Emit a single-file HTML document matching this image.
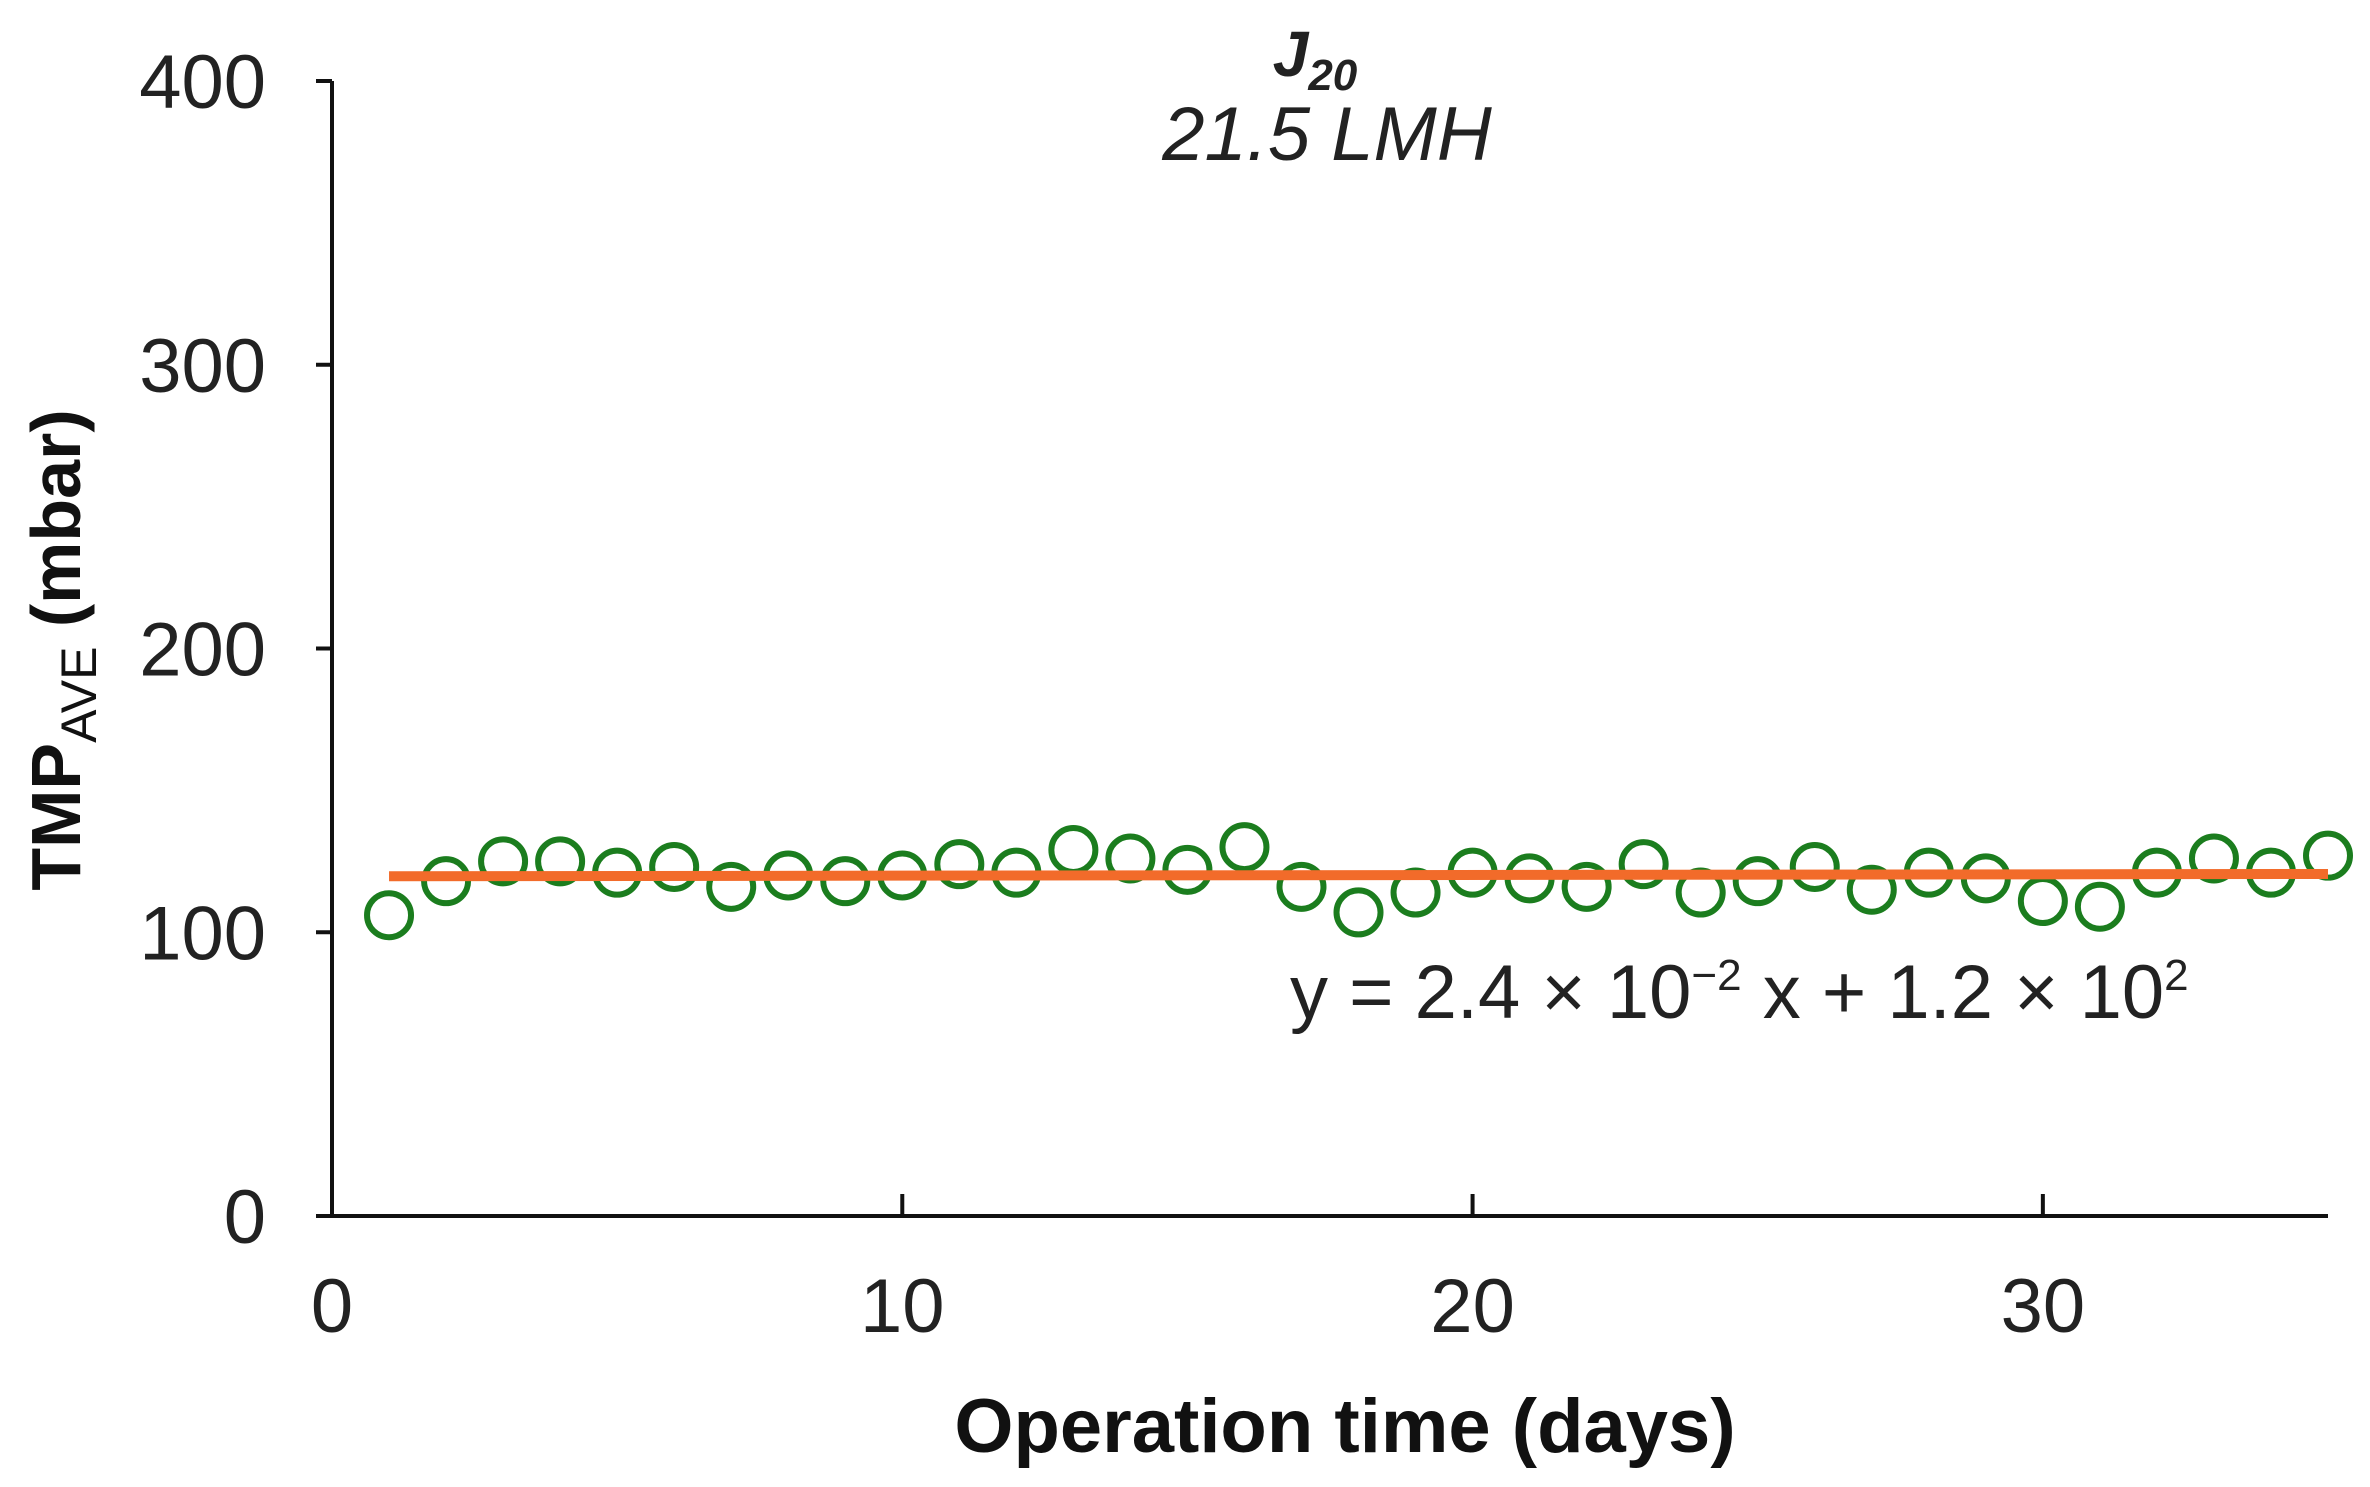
<!DOCTYPE html>
<html><head><meta charset="utf-8"><style>
html,body{margin:0;padding:0;background:#fff;}
svg{display:block;font-family:"Liberation Sans",Arial,sans-serif;}
</style></head><body>
<svg id="chart" width="2370" height="1487" viewBox="0 0 2370 1487" xmlns="http://www.w3.org/2000/svg">
<g id="axes"></g><g id="marks"></g>
<text x="1315" y="76" text-anchor="middle" font-size="64" font-weight="bold" font-style="italic" fill="#222">J<tspan font-size="44" dy="14">20</tspan></text>
<text x="1327" y="160" text-anchor="middle" font-size="76" font-style="italic" fill="#222">21.5 LMH</text>
<text x="1290" y="1018" font-size="76" fill="#222">y = 2.4 × 10<tspan font-size="44" dy="-28">−2</tspan><tspan dy="28"> x + 1.2 × 10</tspan><tspan font-size="44" dy="-28">2</tspan></text>
<text x="1345" y="1452" text-anchor="middle" font-size="76" font-weight="bold" fill="#111">Operation time (days)</text>
<text transform="translate(80,650) rotate(-90)" text-anchor="middle" font-size="70" font-weight="bold" fill="#111">TMP<tspan font-size="50" dy="16" font-weight="normal">AVE</tspan><tspan dy="-16"> (mbar)</tspan></text>
</svg>
<script>
const days = [1,2,3,4,5,6,7,8,9,10,11,12,13,14,15,16,17,18,19,20,21,22,23,24,25,26,27,28,29,30,31,32,33,34,35];
const tmpValues = [106,118,125,125,121,123,116,120,118,120,124,121,129,126,122,130,116,107,114,121,119,116,124,114,118,123,115,121,119,111,109,121,126,121,127];
const fitSlope = 0.024;
const fitIntercept = 119.7;
const xTicks = [0,10,20,30];
const yTicks = [0,100,200,300,400];
const NS = "http://www.w3.org/2000/svg";
const X0=332, X1=2328, Y0=1216, Y1=81, XMAX=35, YMAX=400;
const sx = v => X0 + v*(X1-X0)/XMAX;
const sy = v => Y0 - v*(Y0-Y1)/YMAX;
const axes = document.getElementById('axes'), marks = document.getElementById('marks');
function mk(tag, attrs, parent){const e=document.createElementNS(NS,tag);for(const k in attrs)e.setAttribute(k,attrs[k]);parent.appendChild(e);return e;}
let a = mk('line',{x1:X0,y1:Y1,x2:X0,y2:Y0,stroke:'#111','stroke-width':4},axes);


a = mk('line',{x1:X0-2,y1:Y0,x2:X1,y2:Y0,stroke:'#111','stroke-width':4},axes);


yTicks.forEach(t=>{
  const l=mk('line',{x1:X0-16,y1:sy(t),x2:X0,y2:sy(t),stroke:'#111','stroke-width':4},axes);
  
  
  const tx=mk('text',{x:266,y:sy(t)+27,'text-anchor':'end','font-size':76,fill:'#222'},axes);
  tx.textContent=t;
  
  
});
xTicks.forEach(t=>{
  if(t>0){const l=mk('line',{x1:sx(t),y1:Y0-22,x2:sx(t),y2:Y0,stroke:'#111','stroke-width':4},axes);
  
  }
  const tx=mk('text',{x:sx(t),y:1332,'text-anchor':'middle','font-size':76,fill:'#222'},axes);
  tx.textContent=t;
  
  
});
days.forEach((d,i)=>{
  const c=mk('circle',{cx:sx(d),cy:sy(tmpValues[i]),r:22,fill:'none',stroke:'#1b7d1e','stroke-width':6},marks);
  
  
});
const xa=days[0], xb=days[days.length-1];
const fl=mk('line',{x1:sx(xa),y1:sy(fitSlope*xa+fitIntercept),x2:sx(xb),y2:sy(fitSlope*xb+fitIntercept),stroke:'#f26b2a','stroke-width':10},marks);


</script>
</body></html>
